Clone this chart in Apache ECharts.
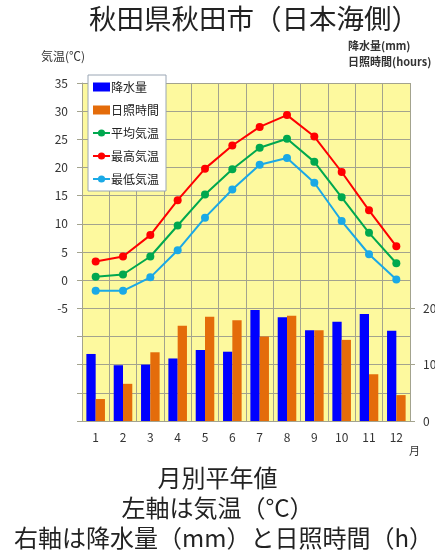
<!DOCTYPE html>
<html>
<head>
<meta charset="utf-8">
<script src="https://cdn.jsdelivr.net/npm/echarts@6/dist/echarts.min.js"></script>
<style>
html,body{margin:0;padding:0;background:#fff;}
#c{width:435px;height:555px;}
</style>
</head>
<body>
<div id="c"></div>
<script>
var months = ['1','2','3','4','5','6','7','8','9','10','11','12'];
var precipitation = [119, 99, 100, 111, 126, 123, 197, 184, 161, 176, 190, 160];
var sunshine = [39, 66, 122, 169, 185, 179, 150, 187, 161, 144, 83, 46];
var tempMean = [0.6, 1.0, 4.2, 9.7, 15.2, 19.7, 23.5, 25.1, 21.0, 14.7, 8.4, 3.0];
var tempMax = [3.3, 4.2, 8.0, 14.2, 19.8, 23.9, 27.2, 29.3, 25.5, 19.2, 12.4, 6.0];
var tempMin = [-1.9, -1.9, 0.5, 5.3, 11.1, 16.1, 20.5, 21.7, 17.3, 10.5, 4.6, 0.1];
var leftTickLabels = [-5, 0, 5, 10, 15, 20, 25, 30, 35];
var rightTickLabels = [0, 100, 200];

var FONT = '"Noto Sans CJK JP", "Noto Sans", sans-serif';
var chart = echarts.init(document.getElementById('c'));
var gridColor = '#a3a38e';
chart.setOption({
  backgroundColor: '#ffffff',
  animation: false,
  textStyle: {fontFamily: FONT},
  grid: {left: 82, right: 25, top: 83, bottom: 134, show: true, backgroundColor: '#fdf99e', borderWidth: 0,
    containLabel: false, outerBoundsMode: 'none'},
  legend: {
    orient: 'vertical', left: 88, top: 75,
    backgroundColor: '#ffffff', borderColor: '#9aa6b4', borderWidth: 1,
    padding: [6, 7, 6, 4], itemGap: 11, itemWidth: 17, itemHeight: 9,
    textStyle: {fontSize: 12, color: '#222', fontFamily: FONT, padding: [0, 0, 0, -4]},
    data: [
      {name: '降水量', icon: 'rect'},
      {name: '日照時間', icon: 'rect'},
      {name: '平均気温'},
      {name: '最高気温'},
      {name: '最低気温'}
    ]
  },
  xAxis: {
    type: 'category', data: months, boundaryGap: true,
    axisLine: {lineStyle: {color: gridColor}},
    axisTick: {show: true, length: 5, lineStyle: {color: gridColor}},
    axisLabel: {fontSize: 12, color: '#333', margin: 10, fontFamily: FONT},
    splitLine: {show: true, lineStyle: {color: gridColor, width: 1}}
  },
  yAxis: [
    {
      type: 'value', min: -25, max: 35, interval: 5, position: 'left',
      axisLine: {show: true, lineStyle: {color: gridColor}},
      axisTick: {show: true, length: 5, lineStyle: {color: gridColor}},
      axisLabel: {fontSize: 12, color: '#333', margin: 14, fontFamily: FONT,
        formatter: function (v) { return leftTickLabels.indexOf(v) >= 0 ? String(v) : ''; }},
      splitLine: {show: true, lineStyle: {color: gridColor, width: 1}}
    },
    {
      type: 'value', min: 0, max: 600, interval: 100, position: 'right',
      axisLine: {show: false},
      axisTick: {show: true, length: 5, lineStyle: {color: gridColor}, customValues: rightTickLabels},
      axisLabel: {fontSize: 12, color: '#333', margin: 13, fontFamily: FONT, customValues: rightTickLabels,
        formatter: function (v) { return rightTickLabels.indexOf(v) >= 0 ? String(v) : ''; }},
      splitLine: {show: false}
    }
  ],
  series: [
    {name: '降水量', type: 'bar', yAxisIndex: 1, data: precipitation, barWidth: '34%', barGap: '0%', itemStyle: {color: '#0000ff'}},
    {name: '日照時間', type: 'bar', yAxisIndex: 1, data: sunshine, barWidth: '34%', barGap: '0%', itemStyle: {color: '#e46c0a'}},
    {name: '平均気温', type: 'line', yAxisIndex: 0, data: tempMean, symbol: 'circle', symbolSize: 8, lineStyle: {width: 2, color: '#00a84f'}, itemStyle: {color: '#00a84f'}},
    {name: '最高気温', type: 'line', yAxisIndex: 0, data: tempMax, symbol: 'circle', symbolSize: 8, lineStyle: {width: 2, color: '#ff0000'}, itemStyle: {color: '#ff0000'}},
    {name: '最低気温', type: 'line', yAxisIndex: 0, data: tempMin, symbol: 'circle', symbolSize: 8, lineStyle: {width: 2, color: '#1aa9e6'}, itemStyle: {color: '#1aa9e6'}}
  ],
  graphic: [
    {type: 'text', left: 89, top: 5, style: {text: '秋田県秋田市（日本海側）', fontSize: 27.5, fontFamily: FONT, fill: '#222'}},
    {type: 'text', left: 41, top: 50, style: {text: '気温(℃)', fontSize: 12, fontFamily: FONT, fill: '#333'}},
    {type: 'text', left: 348, top: 40, style: {text: '降水量(mm)', fontSize: 11, fontWeight: 'bold', fontFamily: FONT, fill: '#333'}},
    {type: 'text', left: 348, top: 56, style: {text: '日照時間(hours)', fontSize: 11, fontWeight: 'bold', fontFamily: FONT, fill: '#333'}},
    {type: 'text', left: 409, top: 445, style: {text: '月', fontSize: 11, fontFamily: FONT, fill: '#333'}},
    {type: 'text', left: 'center', top: 466, style: {text: '月別平年値', fontSize: 24, fontFamily: FONT, fill: '#222'}},
    {type: 'text', left: 'center', top: 496, style: {text: '左軸は気温（°C）', fontSize: 24, fontFamily: FONT, fill: '#222'}},
    {type: 'text', left: 14, top: 526, style: {text: '右軸は降水量（mm）と日照時間（h）', fontSize: 24, fontFamily: FONT, fill: '#222'}}
  ]
});
</script>
</body>
</html>
